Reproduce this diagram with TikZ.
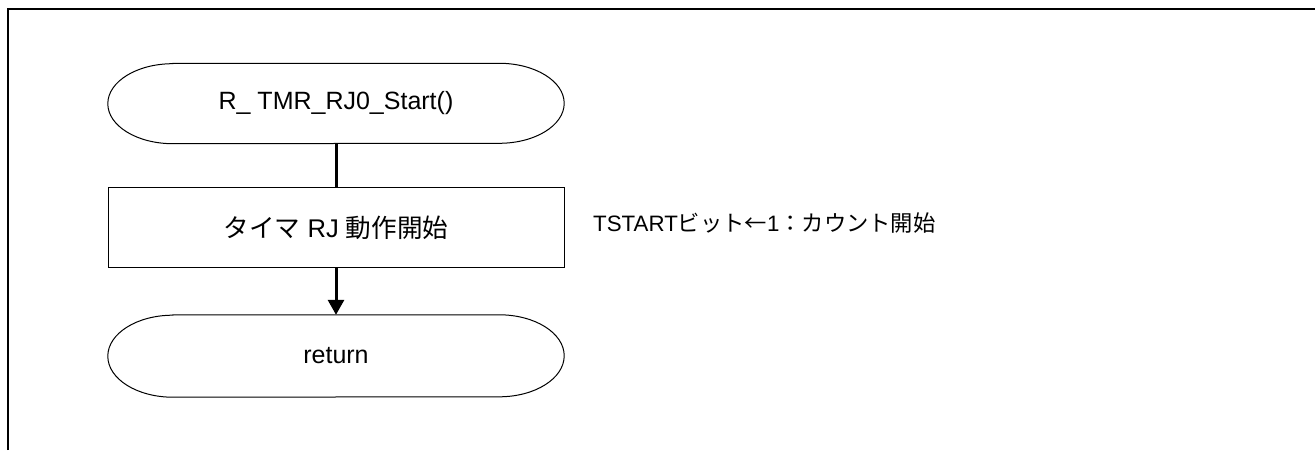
\documentclass[tikz,border=0pt]{standalone}
\usepackage{fontspec}
\setmainfont{Liberation Sans}
\newfontfamily\jp{Noto Sans CJK JP}
\usetikzlibrary{arrows.meta}
\tikzset{
  termnode/.style={minimum width=456pt, minimum height=80pt, inner sep=0pt, font=\fontsize{25pt}{30pt}\selectfont},
  procnode/.style={draw, line width=1pt, minimum width=456pt, minimum height=80pt, inner sep=0pt, font=\fontsize{25.6pt}{30pt}\selectfont},
  outline/.style={line width=1pt},
  flow/.style={line width=3pt},
  flowarrow/.style={line width=3pt, -{Triangle[length=15pt,width=16pt]}},
  note/.style={anchor=west, inner sep=0pt, font=\fontsize{22.3pt}{25pt}\selectfont},
  frame/.style={line width=2pt}
}
\begin{document}
\begin{tikzpicture}[x=1pt,y=1pt]
\useasboundingbox (0,0) rectangle (1315,450);
\coordinate (fb) at (8,0);
\coordinate (fc) at (8,440.5);
\coordinate (fr) at (1315,440.5);
\draw[frame] (fb) -- (fc) -- (fr);

\node[termnode] (start) at (336,346.5) {R\_ TMR\_RJ0\_Start()};
\node[procnode] (proc) at (336,222) {{\jp タイマ} RJ {\jp 動作開始}};
\node[termnode, minimum height=82pt] (ret) at (336,94) {return};
\node[note] (memo) at (593,226.5) {TSTART{\jp ビット←}1{\jp ：カウント開始}};

\draw[outline] ([xshift=65pt]start.north west) -- ([xshift=-65pt]start.north east)
  arc[start angle=90, end angle=-90, x radius=65pt, y radius=40pt]
  -- ([xshift=65pt]start.south west)
  arc[start angle=270, end angle=90, x radius=65pt, y radius=40pt] -- cycle;
\draw[outline] ([xshift=65pt]ret.north west) -- ([xshift=-65pt]ret.north east)
  arc[start angle=90, end angle=-90, x radius=65pt, y radius=41pt]
  -- ([xshift=65pt]ret.south west)
  arc[start angle=270, end angle=90, x radius=65pt, y radius=41pt] -- cycle;

\draw[flow] (start.south) -- (proc.north);
\draw[flowarrow] (proc.south) -- (ret.north);
\end{tikzpicture}
\end{document}
